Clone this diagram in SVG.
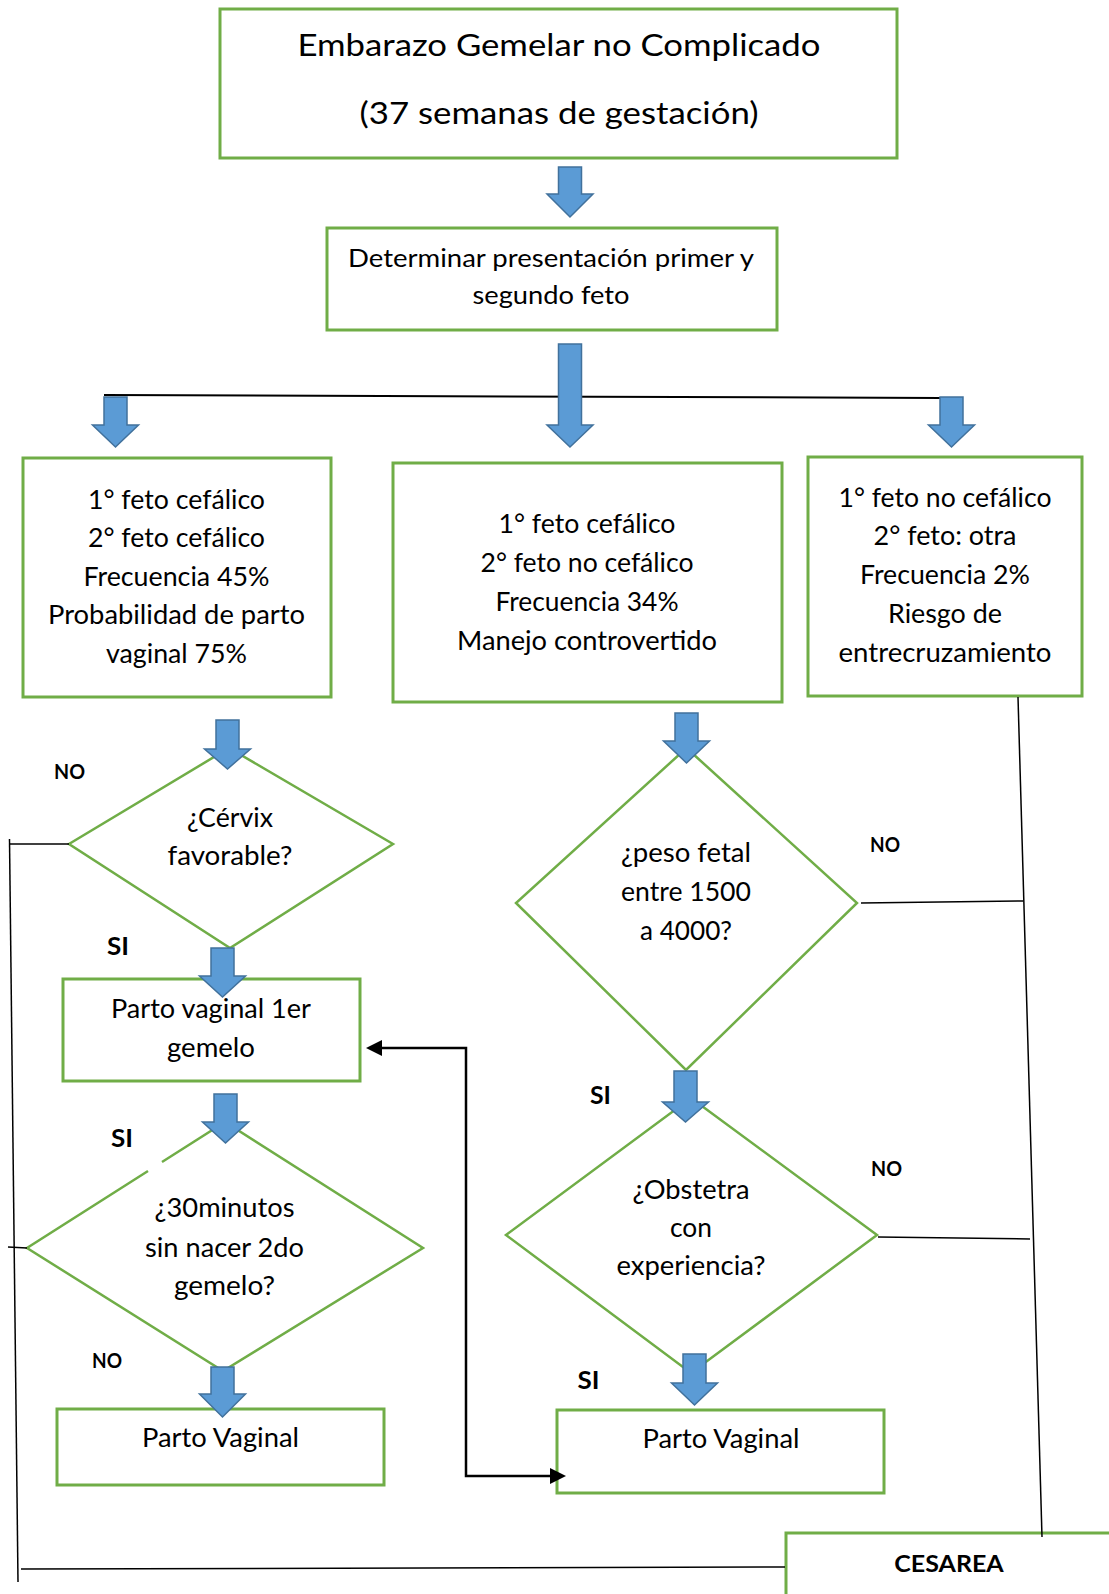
<svg xmlns="http://www.w3.org/2000/svg" width="1109" height="1594" viewBox="0 0 1109 1594">
<style>
  .box{fill:#fff;stroke:#70AD47;stroke-width:3}
  .dia{fill:#fff;stroke:#70AD47;stroke-width:2.5}
  .arr{fill:#5B9BD5;stroke:#41719C;stroke-width:1.5;stroke-linejoin:miter}
  .con{fill:none;stroke:#000;stroke-width:1.5}
  .ret{fill:none;stroke:#000;stroke-width:2.5}
  text{font-family:Lato,"Liberation Sans",sans-serif;fill:#000;text-anchor:middle}
  .t{font-size:26.5px}
  .big{font-size:31.5px}
  .mid{font-size:24.5px}
  .lbl{font-weight:bold;font-size:21px}
  .si{font-weight:bold;font-size:25px}
  .ces{font-weight:bold;font-size:23.5px}
</style>
<defs>
  <marker id="ah" viewBox="0 0 16 16" markerWidth="16" markerHeight="16" refX="8" refY="8" markerUnits="userSpaceOnUse" orient="auto-start-reverse">
    <path d="M0,0 L16,8 L0,16 Z" fill="#000"/>
  </marker>
</defs>
<rect width="1109" height="1594" fill="#fff"/>

<g id="n-inicio">
  <rect class="box" x="220" y="9" width="677" height="149"/>
  <text class="big" x="559" y="56" textLength="523" lengthAdjust="spacingAndGlyphs">Embarazo Gemelar no Complicado</text>
  <text class="big" x="559" y="124" textLength="399" lengthAdjust="spacingAndGlyphs">(37 semanas de gestación)</text>
</g>

<g id="n-determinar">
  <rect class="box" x="327" y="228" width="450" height="102"/>
  <text class="mid" x="551" y="267" textLength="406" lengthAdjust="spacingAndGlyphs">Determinar presentación primer y</text>
  <text class="mid" x="551" y="304" textLength="157" lengthAdjust="spacingAndGlyphs">segundo feto</text>
</g>

<g id="n-cef-cef">
  <rect class="box" x="23" y="458" width="308" height="239"/>
  <text class="t" x="176.5" y="509" textLength="177" lengthAdjust="spacingAndGlyphs">1° feto cefálico</text>
  <text class="t" x="176.5" y="547" textLength="177" lengthAdjust="spacingAndGlyphs">2° feto cefálico</text>
  <text class="t" x="176.5" y="586" textLength="186" lengthAdjust="spacingAndGlyphs">Frecuencia 45%</text>
  <text class="t" x="176.5" y="624" textLength="257" lengthAdjust="spacingAndGlyphs">Probabilidad de parto</text>
  <text class="t" x="176.5" y="663" textLength="141" lengthAdjust="spacingAndGlyphs">vaginal 75%</text>
</g>

<g id="n-cef-nocef">
  <rect class="box" x="393" y="463" width="389" height="239"/>
  <text class="t" x="587" y="533" textLength="177" lengthAdjust="spacingAndGlyphs">1° feto cefálico</text>
  <text class="t" x="587" y="572" textLength="213" lengthAdjust="spacingAndGlyphs">2° feto no cefálico</text>
  <text class="t" x="587" y="611" textLength="183" lengthAdjust="spacingAndGlyphs">Frecuencia 34%</text>
  <text class="t" x="587" y="650" textLength="260" lengthAdjust="spacingAndGlyphs">Manejo controvertido</text>
</g>

<g id="n-nocef-otra">
  <rect class="box" x="808" y="457" width="274" height="239"/>
  <text class="t" x="945" y="507" textLength="213" lengthAdjust="spacingAndGlyphs">1° feto no cefálico</text>
  <text class="t" x="945" y="545" textLength="143" lengthAdjust="spacingAndGlyphs">2° feto: otra</text>
  <text class="t" x="945" y="584" textLength="170" lengthAdjust="spacingAndGlyphs">Frecuencia 2%</text>
  <text class="t" x="945" y="623" textLength="114" lengthAdjust="spacingAndGlyphs">Riesgo de</text>
  <text class="t" x="945" y="662" textLength="213" lengthAdjust="spacingAndGlyphs">entrecruzamiento</text>
</g>

<g id="n-cervix">
  <polygon class="dia" points="229,748 393,844 230,948 69,844"/>
  <text class="t" x="230" y="827" textLength="86" lengthAdjust="spacingAndGlyphs">¿Cérvix</text>
  <text class="t" x="230" y="865" textLength="125" lengthAdjust="spacingAndGlyphs">favorable?</text>
</g>

<g id="n-parto1er">
  <rect class="box" x="63" y="979" width="297" height="102"/>
  <text class="t" x="211" y="1018" textLength="200" lengthAdjust="spacingAndGlyphs">Parto vaginal 1er</text>
  <text class="t" x="211" y="1057" textLength="88" lengthAdjust="spacingAndGlyphs">gemelo</text>
</g>

<g id="n-30min">
  <path class="dia" d="M148,1171 L27,1248 L223,1371 L423,1248 L225,1122 L162,1162"/>
  <text class="t" x="224.5" y="1217" textLength="140" lengthAdjust="spacingAndGlyphs">¿30minutos</text>
  <text class="t" x="224.5" y="1257" textLength="159" lengthAdjust="spacingAndGlyphs">sin nacer 2do</text>
  <text class="t" x="224.5" y="1295" textLength="101" lengthAdjust="spacingAndGlyphs">gemelo?</text>
</g>

<g id="n-parto-vag-izq">
  <rect class="box" x="57" y="1409" width="327" height="76"/>
  <text class="t" x="220.5" y="1447" textLength="157" lengthAdjust="spacingAndGlyphs">Parto Vaginal</text>
</g>

<g id="n-peso">
  <polygon class="dia" points="686.5,748 857,903 686,1070 516,903"/>
  <text class="t" x="686" y="862" textLength="130" lengthAdjust="spacingAndGlyphs">¿peso fetal</text>
  <text class="t" x="686" y="901" textLength="130" lengthAdjust="spacingAndGlyphs">entre 1500</text>
  <text class="t" x="686" y="940" textLength="92" lengthAdjust="spacingAndGlyphs">a 4000?</text>
</g>

<g id="n-obstetra">
  <polygon class="dia" points="691,1098 877,1235 691,1373 506,1235"/>
  <text class="t" x="691" y="1199" textLength="117" lengthAdjust="spacingAndGlyphs">¿Obstetra</text>
  <text class="t" x="691" y="1237" textLength="42" lengthAdjust="spacingAndGlyphs">con</text>
  <text class="t" x="691" y="1275" textLength="149" lengthAdjust="spacingAndGlyphs">experiencia?</text>
</g>

<g id="n-parto-vag-der">
  <rect class="box" x="557" y="1410" width="327" height="83"/>
  <text class="t" x="721" y="1448" textLength="157" lengthAdjust="spacingAndGlyphs">Parto Vaginal</text>
</g>

<g id="n-cesarea">
  <rect class="box" x="786" y="1533" width="400" height="100"/>
  <text class="ces" x="949" y="1572" textLength="109.5" lengthAdjust="spacingAndGlyphs">CESAREA</text>
</g>

<g id="connectors">
  <path class="con" d="M104,395 L941,398" style="stroke-width:2"/>
  <path class="con" d="M69,844 L9,844"/>
  <path class="con" d="M9.5,839 L18,1582"/>
  <path class="con" d="M21,1569 L785,1567"/>
  <path class="con" d="M8,1247 L27,1248"/>
  <path class="con" d="M861,903 L1023.5,901"/>
  <path class="con" d="M878,1237 L1030,1239"/>
  <path class="con" d="M1018,697 L1042,1537"/>
  <path class="ret" d="M374,1048 H466 V1476 H558" marker-start="url(#ah)" marker-end="url(#ah)"/>
</g>

<g id="arrows">
  <path class="arr" d="M558.5,167 H581.5 V194 H593 L570,217 L547,194 H558.5 Z"/>
  <path class="arr" d="M558.5,344 H581.5 V425 H593 L570,447 L547,425 H558.5 Z"/>
  <path class="arr" d="M104,397 H127 V425 H138.5 L115.5,447 L92.5,425 H104 Z"/>
  <path class="arr" d="M940,397 H963 V425 H974.5 L951.5,447 L928.5,425 H940 Z"/>
  <path class="arr" d="M216,720 H239 V749 H250.5 L227.5,769 L204.5,749 H216 Z"/>
  <path class="arr" d="M211,948 H234 V976 H245.5 L222.5,997 L199.5,976 H211 Z"/>
  <path class="arr" d="M214,1094 H237 V1122 H248.5 L225.5,1143 L202.5,1122 H214 Z"/>
  <path class="arr" d="M211,1367 H234 V1394 H245.5 L222.5,1417 L199.5,1394 H211 Z"/>
  <path class="arr" d="M675,713 H698 V741 H709.5 L686.5,763 L663.5,741 H675 Z"/>
  <path class="arr" d="M674,1071 H697 V1102 H708.5 L685.5,1122 L662.5,1102 H674 Z"/>
  <path class="arr" d="M683,1354 H706 V1383 H717.5 L694.5,1405 L671.5,1383 H683 Z"/>
</g>

<g id="labels">
  <text class="lbl" x="69.5" y="779" textLength="31" lengthAdjust="spacingAndGlyphs">NO</text>
  <text class="si" x="118" y="955" textLength="22" lengthAdjust="spacingAndGlyphs">SI</text>
  <text class="si" x="122" y="1147" textLength="22" lengthAdjust="spacingAndGlyphs">SI</text>
  <text class="lbl" x="107" y="1368" textLength="30" lengthAdjust="spacingAndGlyphs">NO</text>
  <text class="lbl" x="885" y="852" textLength="30" lengthAdjust="spacingAndGlyphs">NO</text>
  <text class="si" x="600.5" y="1104" textLength="21" lengthAdjust="spacingAndGlyphs">SI</text>
  <text class="lbl" x="886.5" y="1176" textLength="31" lengthAdjust="spacingAndGlyphs">NO</text>
  <text class="si" x="588.5" y="1389" textLength="22" lengthAdjust="spacingAndGlyphs">SI</text>
</g>
</svg>
